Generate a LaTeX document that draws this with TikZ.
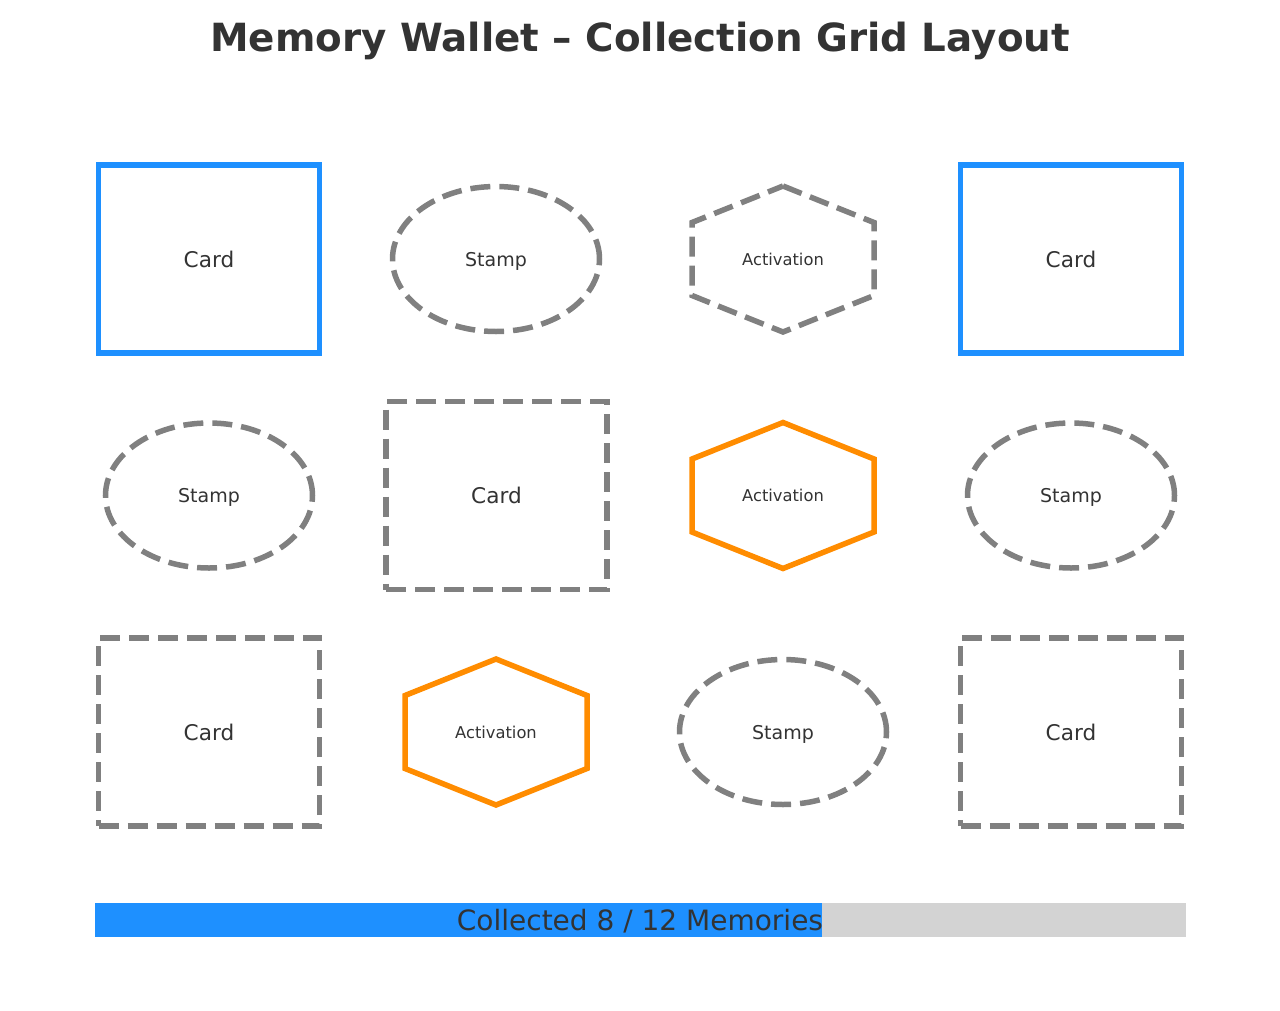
\documentclass[tikz,border=0pt]{standalone}
\usepackage{fontspec}
\setmainfont{DejaVu Sans}
\usetikzlibrary{shapes.geometric}

\definecolor{wblue}{HTML}{1E90FF}
\definecolor{worange}{HTML}{FF8C00}
\definecolor{wgray}{HTML}{808080}
\definecolor{wlight}{HTML}{D3D3D3}
\definecolor{wtext}{HTML}{333333}

\tikzset{
  slot/.style={inner sep=0pt, outer sep=0pt, text=wtext, text depth=0pt, line width=5.5pt},
  cardbox/.style={slot, rectangle, minimum width=221pt, minimum height=188pt, font=\fontsize{21.6}{24}\selectfont},
  stampbox/.style={slot, ellipse, minimum width=207pt, minimum height=145pt, font=\fontsize{19}{22}\selectfont},
  actbox/.style={slot, font=\fontsize{16.3}{19}\selectfont},
  got/.style={draw=wblue},
  gotact/.style={draw=worange, line width=5.5pt},
  open/.style={draw=wgray, dash pattern=on 20pt off 9pt},
  openact/.style={draw=wgray, line width=5.5pt, dash pattern=on 20pt off 9pt}
}

\begin{document}
\begin{tikzpicture}[x=1pt,y=-1pt]

\useasboundingbox (0,0) rectangle (1280,1010);

\node[text=wtext, anchor=base, font=\fontsize{38.8}{44}\selectfont\bfseries] (title) at (640,51) {Memory Wallet – Collection Grid Layout};

% row 1
\node[cardbox, got] (card1) at (209,259) {Card};
\node[stampbox, open] (stamp1) at (496,259) {Stamp};
\node[actbox] (act1) at (783,259) {Activation};
\draw[openact, shift={(act1)}] (0,-73) -- (91,-36.5) -- (91,36.5) -- (0,73) -- (-91,36.5) -- (-91,-36.5) -- cycle;
\node[cardbox, got] (card2) at (1071,259) {Card};

% row 2
\node[stampbox, open] (stamp2) at (209,495.5) {Stamp};
\node[cardbox, open] (card3) at (496.5,495.5) {Card};
\node[actbox] (act2) at (783,495.5) {Activation};
\draw[gotact, shift={(act2)}] (0,-73) -- (91,-36.5) -- (91,36.5) -- (0,73) -- (-91,36.5) -- (-91,-36.5) -- cycle;
\node[stampbox, open] (stamp3) at (1071,495.5) {Stamp};

% row 3
\node[cardbox, open] (card4) at (209,732) {Card};
\node[actbox] (act3) at (496,732) {Activation};
\draw[gotact, shift={(act3)}] (0,-73) -- (91,-36.5) -- (91,36.5) -- (0,73) -- (-91,36.5) -- (-91,-36.5) -- cycle;
\node[stampbox, open] (stamp4) at (783,732) {Stamp};
\node[cardbox, open] (card5) at (1071,732) {Card};

% progress bar
\fill[wblue] (95,903) rectangle (822,937);
\fill[wlight] (822,903) rectangle (1186,937);
\node[text=wtext, text depth=0pt, inner sep=0pt, font=\fontsize{28}{32}\selectfont] (progress) at (640,920) {Collected 8 / 12 Memories};

\end{tikzpicture}
\end{document}
